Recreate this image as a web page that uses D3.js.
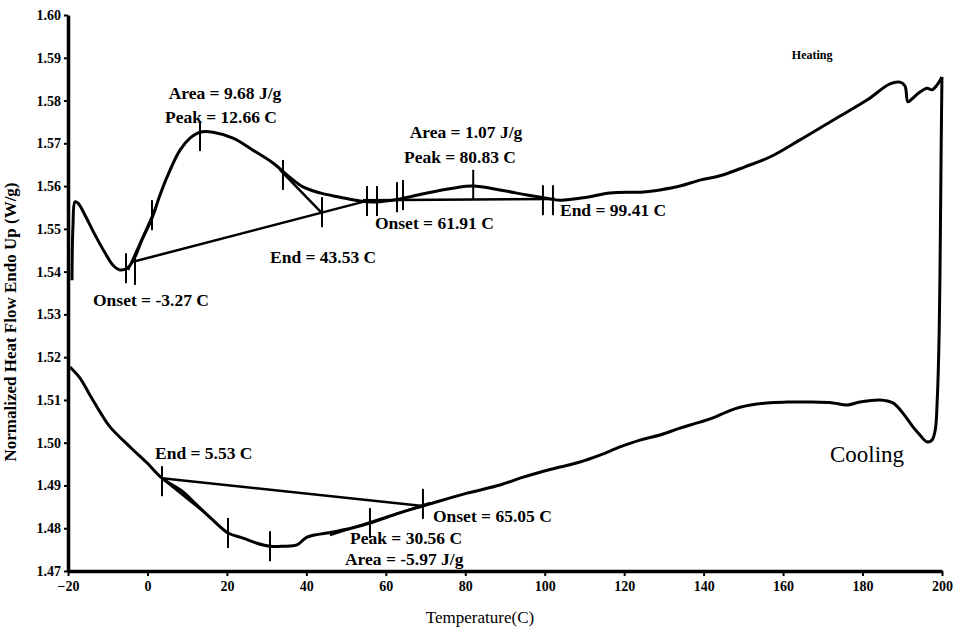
<!DOCTYPE html>
<html>
<head>
<meta charset="utf-8">
<script src="https://cdn.jsdelivr.net/npm/d3@7"></script>
<style>
  body { margin: 0; background: #fff; }
  svg { display: block; }
  text { font-family: "Liberation Serif", "DejaVu Serif", serif; }
</style>
</head>
<body>
<div id="chart"></div>
<script>
// axis ticks
var xTicks = [-20, 0, 20, 40, 60, 80, 100, 120, 140, 160, 180, 200];
var yTicks = [1.47, 1.48, 1.49, 1.50, 1.51, 1.52, 1.53, 1.54, 1.55, 1.56, 1.57, 1.58, 1.59, 1.60];

// heating run: [temperature C, heat flow W/g]
var heating = [
  [-19.0, 1.5380], [-18.74, 1.5509], [-18.24, 1.5563], [-17.48, 1.5560], [-15.72, 1.5532],
  [-13.20, 1.5486], [-10.69, 1.5444], [-8.67, 1.5415], [-6.91, 1.5404], [-5.15, 1.5408],
  [-3.64, 1.5425], [-1.37, 1.5474], [1.14, 1.5525], [3.16, 1.5579], [4.92, 1.5621],
  [8.19, 1.5684], [10.71, 1.5712], [13.22, 1.5726], [16.50, 1.5726], [21.53, 1.5712],
  [26.56, 1.5684], [31.60, 1.5654], [35.12, 1.5626], [39.15, 1.5598], [43.43, 1.5584],
  [48.46, 1.5574], [53.50, 1.5565], [57.27, 1.5563], [63.56, 1.5570], [70.36, 1.5584],
  [76.90, 1.5595], [81.94, 1.5600], [88.73, 1.5591], [95.53, 1.5579], [100.06, 1.5572],
  [103.84, 1.5567], [110.63, 1.5574], [116.42, 1.5584], [124.73, 1.5586], [129.00, 1.5591],
  [134.04, 1.5600], [139.07, 1.5614], [144.11, 1.5624], [150.40, 1.5645], [156.69, 1.5668],
  [164.24, 1.5708], [172.55, 1.5754], [181.11, 1.5801], [186.90, 1.5839], [189.42, 1.5843],
  [190.68, 1.5834], [191.43, 1.5797], [192.69, 1.5806], [194.45, 1.5820], [196.21, 1.5829],
  [197.47, 1.5825], [198.73, 1.5836], [199.99, 1.5855]
];

// cooling run, from 200 C back down to -20 C
var cooling = [
  [199.99, 1.5855], [199.8, 1.5700], [199.6, 1.5500], [199.3, 1.5263], [198.8, 1.5100],
  [198.3, 1.5030], [197.47, 1.5006],
  [196.21, 1.5002], [194.45, 1.5018], [192.69, 1.5037], [190.17, 1.5069], [187.65, 1.5093],
  [184.38, 1.5100], [179.34, 1.5095], [176.07, 1.5088], [172.55, 1.5093], [166.76, 1.5095],
  [160.97, 1.5095], [155.94, 1.5093], [149.14, 1.5083], [145.87, 1.5072], [142.35, 1.5058],
  [139.07, 1.5048], [134.04, 1.5034], [129.00, 1.5018], [123.97, 1.5006], [118.94, 1.4990],
  [113.90, 1.4971], [108.87, 1.4955], [103.84, 1.4943], [98.80, 1.4931], [93.77, 1.4917],
  [88.73, 1.4901], [80.43, 1.4882], [71.87, 1.4859], [69.35, 1.4852], [63.56, 1.4836],
  [56.01, 1.4812], [51.73, 1.4801], [46.70, 1.4791], [40.16, 1.4779], [37.64, 1.4761],
  [34.11, 1.4758], [30.84, 1.4758], [27.57, 1.4765], [24.05, 1.4777], [20.27, 1.4789],
  [16.50, 1.4819], [12.47, 1.4854], [8.94, 1.4885], [3.66, 1.4917], [-0.12, 1.4953],
  [-4.39, 1.4990], [-9.43, 1.5037], [-11.95, 1.5072], [-14.46, 1.5111], [-16.98, 1.5151],
  [-19.50, 1.5177]
];

// baselines and tangents drawn by the analysis software
var construction = [
  [[-3.64, 1.5423], [54.25, 1.5563]],
  [[-4.9, 1.5404], [2.15, 1.5549]],
  [[33.36, 1.5638], [43.93, 1.5537]],
  [[54.25, 1.5567], [102.58, 1.5570]],
  [[3.66, 1.4917], [69.35, 1.4852]],
  [[3.66, 1.4917], [14.48, 1.4836]],
  [[45.94, 1.4784], [71.12, 1.4859]]
];

// cursor marks on the curves: [temperature, heat flow]
var marks = [
  [-5.4, 1.5408], [-3.14, 1.5404], [1.14, 1.5532], [13.22, 1.5717], [34.11, 1.5626],
  [43.93, 1.5539], [55.27, 1.5565], [57.78, 1.5565], [62.82, 1.5574], [64.33, 1.5579],
  [82.0, 1.5603], [99.55, 1.5567], [102.07, 1.5567],
  [3.66, 1.4910], [20.27, 1.4789], [30.84, 1.4758], [56.01, 1.4812], [69.35, 1.4857]
];

// annotation texts with their anchor in data units
var notes = [
  ["Area = 9.68 J/g", 19.52, 1.5804, "middle"],
  ["Peak = 12.66 C", 18.51, 1.5747, "middle"],
  ["Onset = -3.27 C", -13.71, 1.5320, "start"],
  ["End = 43.53 C", 30.85, 1.5420, "start"],
  ["Onset = 61.91 C", 57.27, 1.5500, "start"],
  ["Area = 1.07 J/g", 80.18, 1.5712, "middle"],
  ["Peak = 80.83 C", 78.67, 1.5654, "middle"],
  ["End = 99.41 C", 103.84, 1.5530, "start"],
  ["End = 5.53 C", 1.90, 1.4962, "start"],
  ["Onset = 65.05 C", 71.87, 1.4814, "start"],
  ["Peak = 30.56 C", 50.98, 1.4764, "start"],
  ["Area = -5.97 J/g", 49.72, 1.4714, "start"]
];

var width = 960, height = 631;

var svg = d3.select("#chart").append("svg")
    .attr("width", width)
    .attr("height", height);

var x = d3.scaleLinear().domain([-20, 200]).range([68, 942]);
var y = d3.scaleLinear().domain([1.47, 1.60]).range([571, 15]);

var line = d3.line()
    .x(function(d) { return x(d[0]); })
    .y(function(d) { return y(d[1]); })
    .curve(d3.curveCatmullRom);

// axes
var xAxis = svg.append("g")
    .attr("transform", "translate(0," + y(1.47) + ")")
    .call(d3.axisBottom(x).tickValues(xTicks).tickSize(5).tickSizeOuter(0).tickPadding(5));

var yAxis = svg.append("g")
    .attr("transform", "translate(" + x(-20) + ",0)")
    .call(d3.axisLeft(y).tickValues(yTicks).tickFormat(d3.format(".2f")).tickSize(4).tickSizeOuter(0).tickPadding(3));

[xAxis, yAxis].forEach(function(a) {
  a.select(".domain").attr("stroke", "#000").attr("stroke-width", 3.5);
  a.selectAll(".tick line").attr("stroke", "#000").attr("stroke-width", 2);
  a.selectAll(".tick text")
      .attr("fill", "#000")
      .style("font-family", "'Liberation Serif', serif")
      .style("font-weight", "bold")
      .style("font-size", "14px");
});

svg.append("text")
    .attr("transform", "translate(16,322) rotate(-90)")
    .attr("text-anchor", "middle")
    .style("font-weight", "bold")
    .style("font-size", "17px")
    .text("Normalized Heat Flow Endo Up (W/g)");

svg.append("text")
    .attr("x", 480)
    .attr("y", 623)
    .attr("text-anchor", "middle")
    .style("font-size", "17px")
    .text("Temperature(C)");

// curves
svg.append("path")
    .datum(heating)
    .attr("fill", "none")
    .attr("stroke", "#000")
    .attr("stroke-width", 3)
    .attr("d", line);

svg.append("path")
    .datum(cooling)
    .attr("fill", "none")
    .attr("stroke", "#000")
    .attr("stroke-width", 3)
    .attr("d", line);

svg.selectAll(".construct")
    .data(construction)
    .enter()
    .append("path")
    .attr("class", "construct")
    .attr("fill", "none")
    .attr("stroke", "#000")
    .attr("stroke-width", 2.5)
    .attr("d", d3.line().x(function(d) { return x(d[0]); }).y(function(d) { return y(d[1]); }));

svg.selectAll(".mark")
    .data(marks)
    .enter()
    .append("line")
    .attr("class", "mark")
    .attr("x1", function(d) { return x(d[0]); })
    .attr("x2", function(d) { return x(d[0]); })
    .attr("y1", function(d) { return y(d[1]) - 15; })
    .attr("y2", function(d) { return y(d[1]) + 15; })
    .attr("stroke", "#000")
    .attr("stroke-width", 2);

svg.selectAll(".note")
    .data(notes)
    .enter()
    .append("text")
    .attr("class", "note")
    .attr("x", function(d) { return x(d[1]); })
    .attr("y", function(d) { return y(d[2]); })
    .attr("text-anchor", function(d) { return d[3]; })
    .style("font-weight", "bold")
    .style("font-size", "17.5px")
    .text(function(d) { return d[0]; });

svg.append("text")
    .attr("x", x(162.2))
    .attr("y", y(1.5896))
    .style("font-weight", "bold")
    .style("font-size", "12px")
    .text("Heating");

svg.append("text")
    .attr("x", x(171.8))
    .attr("y", y(1.4955))
    .style("font-size", "23px")
    .text("Cooling");
</script>
</body>
</html>
